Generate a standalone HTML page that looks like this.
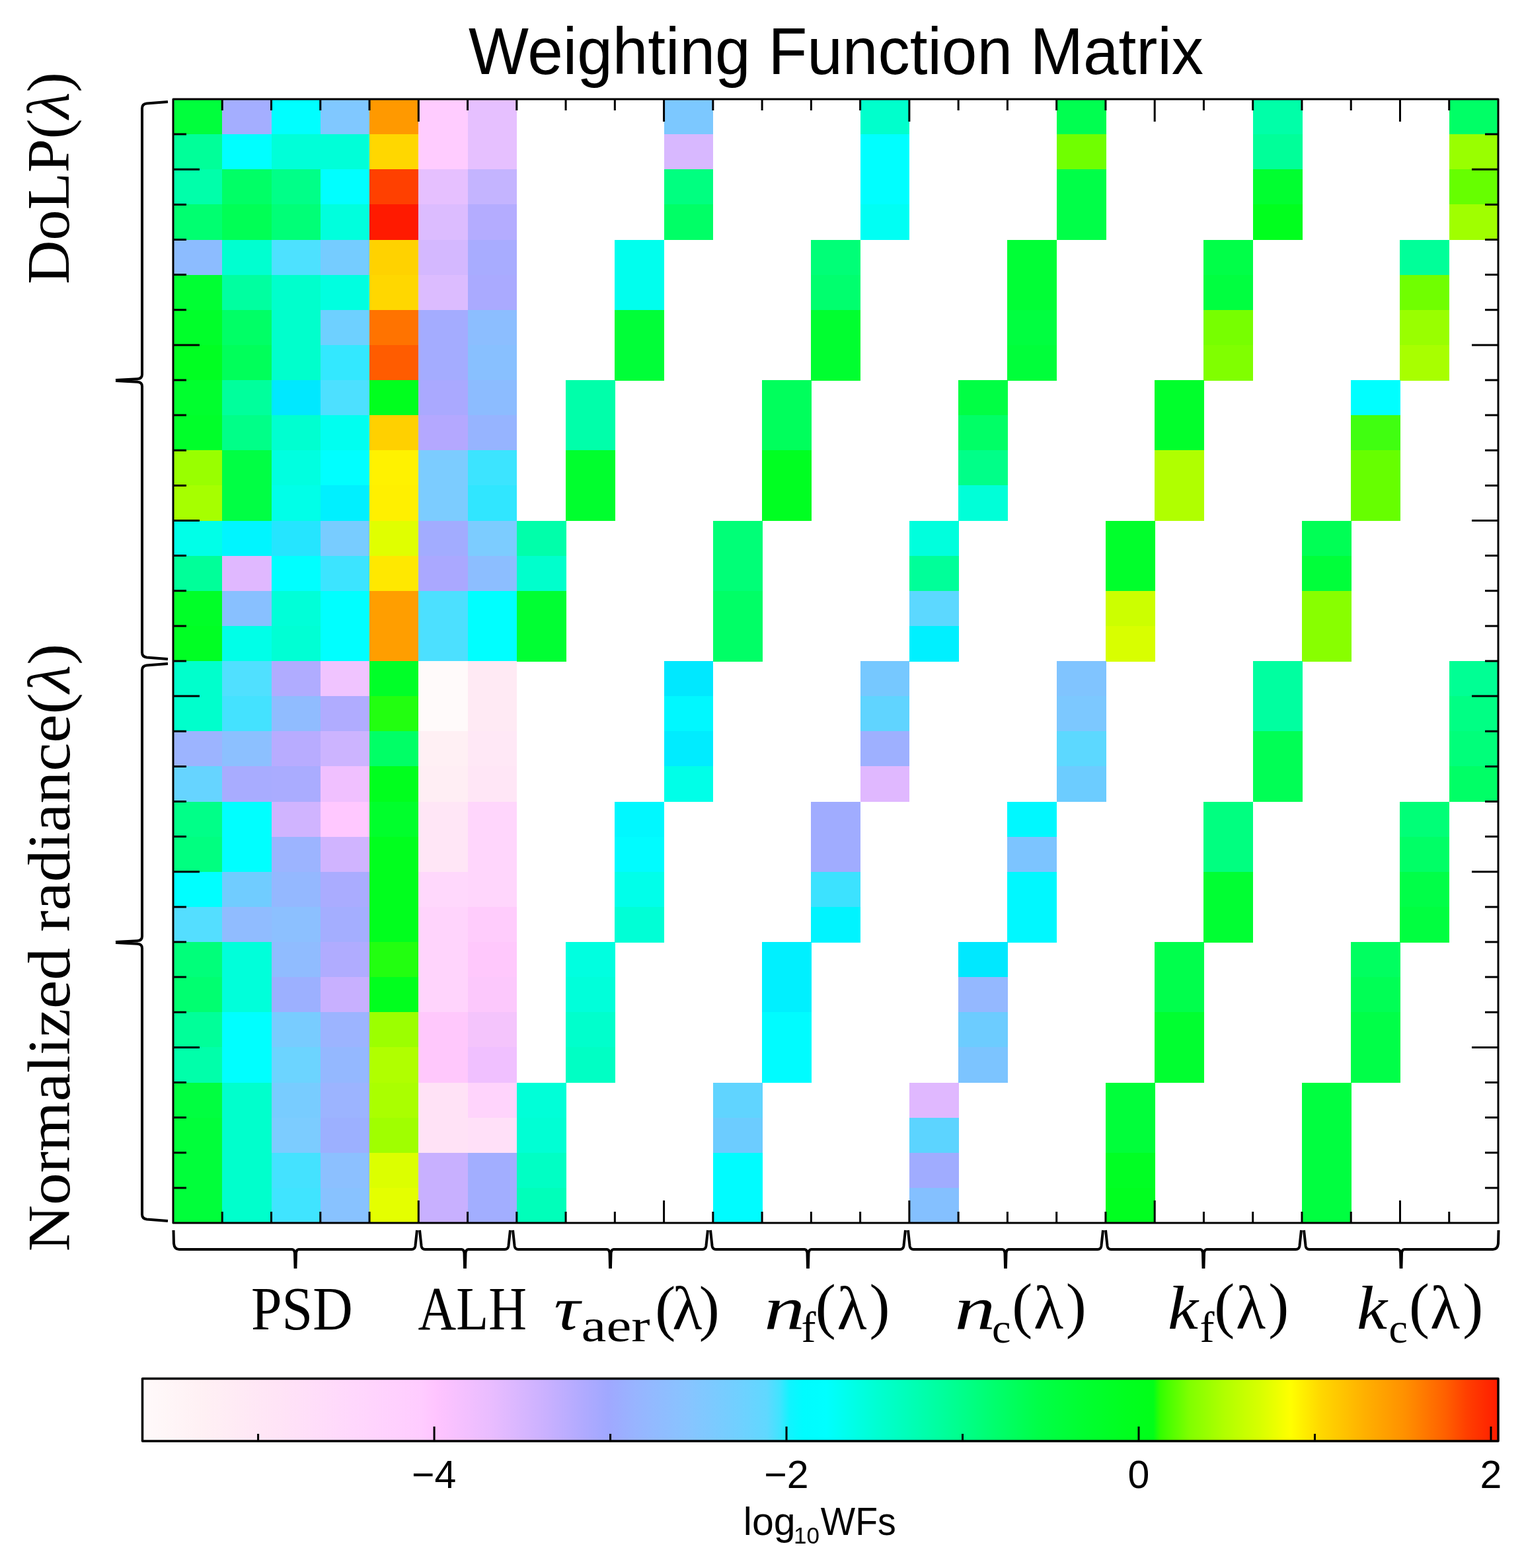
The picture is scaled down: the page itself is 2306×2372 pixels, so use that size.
<!DOCTYPE html>
<html><head><meta charset="utf-8"><title>Weighting Function Matrix</title>
<style>
html,body{margin:0;padding:0;background:#fff;}
body{width:2306px;height:2372px;overflow:hidden;}
svg{display:block;}
.sans{font-family:'Liberation Sans', Arial, Helvetica, sans-serif;}
.serif{font-family:'Liberation Serif', 'DejaVu Serif', serif;}
</style></head><body>
<svg width="2306" height="2372" viewBox="0 0 2306 2372">
<rect width="2306" height="2372" fill="#fff"/>
<defs><linearGradient id="cb" x1="215.5" y1="0" x2="2267" y2="0" gradientUnits="userSpaceOnUse"><stop offset="0.0000" stop-color="#FFFAFA"/><stop offset="0.0456" stop-color="#FFF0F4"/><stop offset="0.0987" stop-color="#FFE4F6"/><stop offset="0.1523" stop-color="#FFD8FC"/><stop offset="0.2055" stop-color="#FFCCFF"/><stop offset="0.2167" stop-color="#FFC4FF"/><stop offset="0.2586" stop-color="#E8BCFF"/><stop offset="0.2995" stop-color="#C8B0FF"/><stop offset="0.3254" stop-color="#B0AAFF"/><stop offset="0.3434" stop-color="#A0A8FF"/><stop offset="0.3634" stop-color="#98B4FF"/><stop offset="0.4019" stop-color="#88C4FF"/><stop offset="0.4404" stop-color="#70D0FF"/><stop offset="0.4604" stop-color="#60D8FF"/><stop offset="0.4701" stop-color="#40E4FF"/><stop offset="0.4775" stop-color="#10F4FF"/><stop offset="0.4872" stop-color="#00FCFF"/><stop offset="0.5043" stop-color="#00FFFF"/><stop offset="0.5433" stop-color="#00FFD0"/><stop offset="0.5871" stop-color="#00FFA0"/><stop offset="0.6261" stop-color="#00FF70"/><stop offset="0.6602" stop-color="#00FF48"/><stop offset="0.6944" stop-color="#00FF30"/><stop offset="0.7236" stop-color="#00FF20"/><stop offset="0.7456" stop-color="#00FF18"/><stop offset="0.7504" stop-color="#30FF00"/><stop offset="0.7563" stop-color="#48FF00"/><stop offset="0.7724" stop-color="#80FF00"/><stop offset="0.7977" stop-color="#B0FF00"/><stop offset="0.8245" stop-color="#D8FF00"/><stop offset="0.8469" stop-color="#FFFF00"/><stop offset="0.8689" stop-color="#FFD800"/><stop offset="0.9015" stop-color="#FFB000"/><stop offset="0.9313" stop-color="#FF9000"/><stop offset="0.9610" stop-color="#FF6000"/><stop offset="0.9761" stop-color="#FF4000"/><stop offset="1.0000" stop-color="#FF1C00"/></linearGradient></defs>
<rect x="262" y="150" width="2005" height="1700" fill="#FFFFFF"/>
<g shape-rendering="crispEdges">
<rect x="262" y="150" width="74.86" height="53.73" fill="#00FF3C"/>
<rect x="336.26" y="150" width="74.86" height="53.73" fill="#A4AEFF"/>
<rect x="410.52" y="150" width="74.86" height="53.73" fill="#00FFFF"/>
<rect x="484.78" y="150" width="74.86" height="53.73" fill="#80C8FF"/>
<rect x="559.04" y="150" width="74.86" height="53.73" fill="#FF9900"/>
<rect x="633.3" y="150" width="74.86" height="53.73" fill="#FFCCFF"/>
<rect x="707.56" y="150" width="74.86" height="53.73" fill="#E6C0FF"/>
<rect x="1004.59" y="150" width="74.86" height="53.73" fill="#7CC8FF"/>
<rect x="1301.63" y="150" width="74.86" height="53.73" fill="#00FFCC"/>
<rect x="1598.67" y="150" width="74.86" height="53.73" fill="#00FF50"/>
<rect x="1895.7" y="150" width="74.86" height="53.73" fill="#00FFA8"/>
<rect x="2192.74" y="150" width="74.86" height="53.73" fill="#00FF66"/>
<rect x="262" y="203.12" width="74.86" height="53.73" fill="#00FF99"/>
<rect x="336.26" y="203.12" width="74.86" height="53.73" fill="#00FFFF"/>
<rect x="410.52" y="203.12" width="74.86" height="53.73" fill="#00FFD8"/>
<rect x="484.78" y="203.12" width="74.86" height="53.73" fill="#00FFD8"/>
<rect x="559.04" y="203.12" width="74.86" height="53.73" fill="#FFD700"/>
<rect x="633.3" y="203.12" width="74.86" height="53.73" fill="#FFCCFF"/>
<rect x="707.56" y="203.12" width="74.86" height="53.73" fill="#E6C0FF"/>
<rect x="1004.59" y="203.12" width="74.86" height="53.73" fill="#D8B8FF"/>
<rect x="1301.63" y="203.12" width="74.86" height="53.73" fill="#00FFFF"/>
<rect x="1598.67" y="203.12" width="74.86" height="53.73" fill="#70FF00"/>
<rect x="1895.7" y="203.12" width="74.86" height="53.73" fill="#00FF99"/>
<rect x="2192.74" y="203.12" width="74.86" height="53.73" fill="#99FF00"/>
<rect x="262" y="256.25" width="74.86" height="53.73" fill="#00FFAA"/>
<rect x="336.26" y="256.25" width="74.86" height="53.73" fill="#00FF66"/>
<rect x="410.52" y="256.25" width="74.86" height="53.73" fill="#00FF88"/>
<rect x="484.78" y="256.25" width="74.86" height="53.73" fill="#00FFFF"/>
<rect x="559.04" y="256.25" width="74.86" height="53.73" fill="#FF4000"/>
<rect x="633.3" y="256.25" width="74.86" height="53.73" fill="#E6C0FF"/>
<rect x="707.56" y="256.25" width="74.86" height="53.73" fill="#C4B4FF"/>
<rect x="1004.59" y="256.25" width="74.86" height="53.73" fill="#00FF80"/>
<rect x="1301.63" y="256.25" width="74.86" height="53.73" fill="#00FFFF"/>
<rect x="1598.67" y="256.25" width="74.86" height="53.73" fill="#00FF48"/>
<rect x="1895.7" y="256.25" width="74.86" height="53.73" fill="#00FF30"/>
<rect x="2192.74" y="256.25" width="74.86" height="53.73" fill="#66FF00"/>
<rect x="262" y="309.38" width="74.86" height="53.73" fill="#00FF70"/>
<rect x="336.26" y="309.38" width="74.86" height="53.73" fill="#00FF55"/>
<rect x="410.52" y="309.38" width="74.86" height="53.73" fill="#00FF77"/>
<rect x="484.78" y="309.38" width="74.86" height="53.73" fill="#00FFDD"/>
<rect x="559.04" y="309.38" width="74.86" height="53.73" fill="#FF1A00"/>
<rect x="633.3" y="309.38" width="74.86" height="53.73" fill="#DCBCFF"/>
<rect x="707.56" y="309.38" width="74.86" height="53.73" fill="#B4ACFF"/>
<rect x="1004.59" y="309.38" width="74.86" height="53.73" fill="#00FF66"/>
<rect x="1301.63" y="309.38" width="74.86" height="53.73" fill="#00FFF4"/>
<rect x="1598.67" y="309.38" width="74.86" height="53.73" fill="#00FF48"/>
<rect x="1895.7" y="309.38" width="74.86" height="53.73" fill="#00FF1E"/>
<rect x="2192.74" y="309.38" width="74.86" height="53.73" fill="#A0FF00"/>
<rect x="262" y="362.5" width="74.86" height="53.73" fill="#8CBCFF"/>
<rect x="336.26" y="362.5" width="74.86" height="53.73" fill="#00FFD0"/>
<rect x="410.52" y="362.5" width="74.86" height="53.73" fill="#4DE1FF"/>
<rect x="484.78" y="362.5" width="74.86" height="53.73" fill="#75CCFF"/>
<rect x="559.04" y="362.5" width="74.86" height="53.73" fill="#FFD200"/>
<rect x="633.3" y="362.5" width="74.86" height="53.73" fill="#D4B8FF"/>
<rect x="707.56" y="362.5" width="74.86" height="53.73" fill="#A8ACFF"/>
<rect x="930.33" y="362.5" width="74.86" height="53.73" fill="#00FFEE"/>
<rect x="1227.37" y="362.5" width="74.86" height="53.73" fill="#00FF77"/>
<rect x="1524.41" y="362.5" width="74.86" height="53.73" fill="#00FF36"/>
<rect x="1821.44" y="362.5" width="74.86" height="53.73" fill="#00FF48"/>
<rect x="2118.48" y="362.5" width="74.86" height="53.73" fill="#00FF99"/>
<rect x="262" y="415.62" width="74.86" height="53.73" fill="#00FF33"/>
<rect x="336.26" y="415.62" width="74.86" height="53.73" fill="#00FFA0"/>
<rect x="410.52" y="415.62" width="74.86" height="53.73" fill="#00FFCC"/>
<rect x="484.78" y="415.62" width="74.86" height="53.73" fill="#00FFE0"/>
<rect x="559.04" y="415.62" width="74.86" height="53.73" fill="#FFD700"/>
<rect x="633.3" y="415.62" width="74.86" height="53.73" fill="#DCBCFF"/>
<rect x="707.56" y="415.62" width="74.86" height="53.73" fill="#AAAAFF"/>
<rect x="930.33" y="415.62" width="74.86" height="53.73" fill="#00FFEE"/>
<rect x="1227.37" y="415.62" width="74.86" height="53.73" fill="#00FF6E"/>
<rect x="1524.41" y="415.62" width="74.86" height="53.73" fill="#00FF36"/>
<rect x="1821.44" y="415.62" width="74.86" height="53.73" fill="#00FF40"/>
<rect x="2118.48" y="415.62" width="74.86" height="53.73" fill="#70FF00"/>
<rect x="262" y="468.75" width="74.86" height="53.73" fill="#00FF2A"/>
<rect x="336.26" y="468.75" width="74.86" height="53.73" fill="#00FF66"/>
<rect x="410.52" y="468.75" width="74.86" height="53.73" fill="#00FFCC"/>
<rect x="484.78" y="468.75" width="74.86" height="53.73" fill="#6ED0FF"/>
<rect x="559.04" y="468.75" width="74.86" height="53.73" fill="#FF7300"/>
<rect x="633.3" y="468.75" width="74.86" height="53.73" fill="#A4ACFF"/>
<rect x="707.56" y="468.75" width="74.86" height="53.73" fill="#8CBEFF"/>
<rect x="930.33" y="468.75" width="74.86" height="53.73" fill="#00FF38"/>
<rect x="1227.37" y="468.75" width="74.86" height="53.73" fill="#00FF30"/>
<rect x="1524.41" y="468.75" width="74.86" height="53.73" fill="#00FF40"/>
<rect x="1821.44" y="468.75" width="74.86" height="53.73" fill="#77FF00"/>
<rect x="2118.48" y="468.75" width="74.86" height="53.73" fill="#99FF00"/>
<rect x="262" y="521.88" width="74.86" height="53.73" fill="#00FF22"/>
<rect x="336.26" y="521.88" width="74.86" height="53.73" fill="#00FF5A"/>
<rect x="410.52" y="521.88" width="74.86" height="53.73" fill="#00FFCC"/>
<rect x="484.78" y="521.88" width="74.86" height="53.73" fill="#33E8FF"/>
<rect x="559.04" y="521.88" width="74.86" height="53.73" fill="#FF5C00"/>
<rect x="633.3" y="521.88" width="74.86" height="53.73" fill="#A4ACFF"/>
<rect x="707.56" y="521.88" width="74.86" height="53.73" fill="#88C0FF"/>
<rect x="930.33" y="521.88" width="74.86" height="53.73" fill="#00FF38"/>
<rect x="1227.37" y="521.88" width="74.86" height="53.73" fill="#00FF30"/>
<rect x="1524.41" y="521.88" width="74.86" height="53.73" fill="#00FF3A"/>
<rect x="1821.44" y="521.88" width="74.86" height="53.73" fill="#80FF00"/>
<rect x="2118.48" y="521.88" width="74.86" height="53.73" fill="#A8FF00"/>
<rect x="262" y="575" width="74.86" height="53.73" fill="#00FF2E"/>
<rect x="336.26" y="575" width="74.86" height="53.73" fill="#00FF9C"/>
<rect x="410.52" y="575" width="74.86" height="53.73" fill="#00E8FF"/>
<rect x="484.78" y="575" width="74.86" height="53.73" fill="#4DE0FF"/>
<rect x="559.04" y="575" width="74.86" height="53.73" fill="#00FF1E"/>
<rect x="633.3" y="575" width="74.86" height="53.73" fill="#AAA9FF"/>
<rect x="707.56" y="575" width="74.86" height="53.73" fill="#8CBCFF"/>
<rect x="856.07" y="575" width="74.86" height="53.73" fill="#00FFAA"/>
<rect x="1153.11" y="575" width="74.86" height="53.73" fill="#00FF5C"/>
<rect x="1450.15" y="575" width="74.86" height="53.73" fill="#00FF44"/>
<rect x="1747.19" y="575" width="74.86" height="53.73" fill="#00FF2C"/>
<rect x="2044.22" y="575" width="74.86" height="53.73" fill="#00FFFF"/>
<rect x="262" y="628.12" width="74.86" height="53.73" fill="#00FF2A"/>
<rect x="336.26" y="628.12" width="74.86" height="53.73" fill="#00FF88"/>
<rect x="410.52" y="628.12" width="74.86" height="53.73" fill="#00FFD0"/>
<rect x="484.78" y="628.12" width="74.86" height="53.73" fill="#00FFF0"/>
<rect x="559.04" y="628.12" width="74.86" height="53.73" fill="#FFD000"/>
<rect x="633.3" y="628.12" width="74.86" height="53.73" fill="#B4A8FF"/>
<rect x="707.56" y="628.12" width="74.86" height="53.73" fill="#96B4FF"/>
<rect x="856.07" y="628.12" width="74.86" height="53.73" fill="#00FFAA"/>
<rect x="1153.11" y="628.12" width="74.86" height="53.73" fill="#00FF5C"/>
<rect x="1450.15" y="628.12" width="74.86" height="53.73" fill="#00FF66"/>
<rect x="1747.19" y="628.12" width="74.86" height="53.73" fill="#00FF2C"/>
<rect x="2044.22" y="628.12" width="74.86" height="53.73" fill="#40FF10"/>
<rect x="262" y="681.25" width="74.86" height="53.73" fill="#99FF00"/>
<rect x="336.26" y="681.25" width="74.86" height="53.73" fill="#00FF44"/>
<rect x="410.52" y="681.25" width="74.86" height="53.73" fill="#00FFE0"/>
<rect x="484.78" y="681.25" width="74.86" height="53.73" fill="#00FFFF"/>
<rect x="559.04" y="681.25" width="74.86" height="53.73" fill="#FFF200"/>
<rect x="633.3" y="681.25" width="74.86" height="53.73" fill="#7CCCFF"/>
<rect x="707.56" y="681.25" width="74.86" height="53.73" fill="#3CE4FF"/>
<rect x="856.07" y="681.25" width="74.86" height="53.73" fill="#00FF2E"/>
<rect x="1153.11" y="681.25" width="74.86" height="53.73" fill="#00FF22"/>
<rect x="1450.15" y="681.25" width="74.86" height="53.73" fill="#00FF88"/>
<rect x="1747.19" y="681.25" width="74.86" height="53.73" fill="#B0FF00"/>
<rect x="2044.22" y="681.25" width="74.86" height="53.73" fill="#66FF00"/>
<rect x="262" y="734.38" width="74.86" height="53.73" fill="#A6FF00"/>
<rect x="336.26" y="734.38" width="74.86" height="53.73" fill="#00FF44"/>
<rect x="410.52" y="734.38" width="74.86" height="53.73" fill="#00FFE8"/>
<rect x="484.78" y="734.38" width="74.86" height="53.73" fill="#00F0FF"/>
<rect x="559.04" y="734.38" width="74.86" height="53.73" fill="#FFF000"/>
<rect x="633.3" y="734.38" width="74.86" height="53.73" fill="#7CCCFF"/>
<rect x="707.56" y="734.38" width="74.86" height="53.73" fill="#30E6FF"/>
<rect x="856.07" y="734.38" width="74.86" height="53.73" fill="#00FF2E"/>
<rect x="1153.11" y="734.38" width="74.86" height="53.73" fill="#00FF22"/>
<rect x="1450.15" y="734.38" width="74.86" height="53.73" fill="#00FFD8"/>
<rect x="1747.19" y="734.38" width="74.86" height="53.73" fill="#B0FF00"/>
<rect x="2044.22" y="734.38" width="74.86" height="53.73" fill="#66FF00"/>
<rect x="262" y="787.5" width="74.86" height="53.73" fill="#00FFE8"/>
<rect x="336.26" y="787.5" width="74.86" height="53.73" fill="#00F5FF"/>
<rect x="410.52" y="787.5" width="74.86" height="53.73" fill="#25E5FF"/>
<rect x="484.78" y="787.5" width="74.86" height="53.73" fill="#78CCFF"/>
<rect x="559.04" y="787.5" width="74.86" height="53.73" fill="#E0FF00"/>
<rect x="633.3" y="787.5" width="74.86" height="53.73" fill="#A2ACFF"/>
<rect x="707.56" y="787.5" width="74.86" height="53.73" fill="#7CCCFF"/>
<rect x="781.81" y="787.5" width="74.86" height="53.73" fill="#00FFAA"/>
<rect x="1078.85" y="787.5" width="74.86" height="53.73" fill="#00FF77"/>
<rect x="1375.89" y="787.5" width="74.86" height="53.73" fill="#00FFDD"/>
<rect x="1672.93" y="787.5" width="74.86" height="53.73" fill="#00FF2C"/>
<rect x="1969.96" y="787.5" width="74.86" height="53.73" fill="#00FF55"/>
<rect x="262" y="840.62" width="74.86" height="53.73" fill="#00FF99"/>
<rect x="336.26" y="840.62" width="74.86" height="53.73" fill="#E0B8FF"/>
<rect x="410.52" y="840.62" width="74.86" height="53.73" fill="#00FFFF"/>
<rect x="484.78" y="840.62" width="74.86" height="53.73" fill="#3CE4FF"/>
<rect x="559.04" y="840.62" width="74.86" height="53.73" fill="#FFE800"/>
<rect x="633.3" y="840.62" width="74.86" height="53.73" fill="#AAA8FF"/>
<rect x="707.56" y="840.62" width="74.86" height="53.73" fill="#8CBEFF"/>
<rect x="781.81" y="840.62" width="74.86" height="53.73" fill="#00FFCC"/>
<rect x="1078.85" y="840.62" width="74.86" height="53.73" fill="#00FF77"/>
<rect x="1375.89" y="840.62" width="74.86" height="53.73" fill="#00FF99"/>
<rect x="1672.93" y="840.62" width="74.86" height="53.73" fill="#00FF2C"/>
<rect x="1969.96" y="840.62" width="74.86" height="53.73" fill="#00FF3A"/>
<rect x="262" y="893.75" width="74.86" height="53.73" fill="#00FF28"/>
<rect x="336.26" y="893.75" width="74.86" height="53.73" fill="#88C0FF"/>
<rect x="410.52" y="893.75" width="74.86" height="53.73" fill="#00FFD8"/>
<rect x="484.78" y="893.75" width="74.86" height="53.73" fill="#00FFFF"/>
<rect x="559.04" y="893.75" width="74.86" height="53.73" fill="#FF9E00"/>
<rect x="633.3" y="893.75" width="74.86" height="53.73" fill="#4CE0FF"/>
<rect x="707.56" y="893.75" width="74.86" height="53.73" fill="#00FFFF"/>
<rect x="781.81" y="893.75" width="74.86" height="53.73" fill="#00FF33"/>
<rect x="1078.85" y="893.75" width="74.86" height="53.73" fill="#00FF66"/>
<rect x="1375.89" y="893.75" width="74.86" height="53.73" fill="#5CD8FF"/>
<rect x="1672.93" y="893.75" width="74.86" height="53.73" fill="#CCFF00"/>
<rect x="1969.96" y="893.75" width="74.86" height="53.73" fill="#88FF00"/>
<rect x="262" y="946.88" width="74.86" height="53.73" fill="#00FF24"/>
<rect x="336.26" y="946.88" width="74.86" height="53.73" fill="#00FFE8"/>
<rect x="410.52" y="946.88" width="74.86" height="53.73" fill="#00FFD4"/>
<rect x="484.78" y="946.88" width="74.86" height="53.73" fill="#00FFFF"/>
<rect x="559.04" y="946.88" width="74.86" height="53.73" fill="#FF9E00"/>
<rect x="633.3" y="946.88" width="74.86" height="53.73" fill="#4CE0FF"/>
<rect x="707.56" y="946.88" width="74.86" height="53.73" fill="#00FFFF"/>
<rect x="781.81" y="946.88" width="74.86" height="53.73" fill="#00FF33"/>
<rect x="1078.85" y="946.88" width="74.86" height="53.73" fill="#00FF66"/>
<rect x="1375.89" y="946.88" width="74.86" height="53.73" fill="#00F0FF"/>
<rect x="1672.93" y="946.88" width="74.86" height="53.73" fill="#D8FF00"/>
<rect x="1969.96" y="946.88" width="74.86" height="53.73" fill="#88FF00"/>
<rect x="262" y="1000" width="74.86" height="53.73" fill="#00FFCC"/>
<rect x="336.26" y="1000" width="74.86" height="53.73" fill="#50E0FF"/>
<rect x="410.52" y="1000" width="74.86" height="53.73" fill="#B0ACFF"/>
<rect x="484.78" y="1000" width="74.86" height="53.73" fill="#F0C4FF"/>
<rect x="559.04" y="1000" width="74.86" height="53.73" fill="#00FF28"/>
<rect x="633.3" y="1000" width="74.86" height="53.73" fill="#FFFAFA"/>
<rect x="707.56" y="1000" width="74.86" height="53.73" fill="#FFEAF4"/>
<rect x="1004.59" y="1000" width="74.86" height="53.73" fill="#00E8FF"/>
<rect x="1301.63" y="1000" width="74.86" height="53.73" fill="#76C8FF"/>
<rect x="1598.67" y="1000" width="74.86" height="53.73" fill="#80C4FF"/>
<rect x="1895.7" y="1000" width="74.86" height="53.73" fill="#00FFA0"/>
<rect x="2192.74" y="1000" width="74.86" height="53.73" fill="#00FF94"/>
<rect x="262" y="1053.12" width="74.86" height="53.73" fill="#00FFCC"/>
<rect x="336.26" y="1053.12" width="74.86" height="53.73" fill="#44E2FF"/>
<rect x="410.52" y="1053.12" width="74.86" height="53.73" fill="#90BCFF"/>
<rect x="484.78" y="1053.12" width="74.86" height="53.73" fill="#B0ACFF"/>
<rect x="559.04" y="1053.12" width="74.86" height="53.73" fill="#22FF10"/>
<rect x="633.3" y="1053.12" width="74.86" height="53.73" fill="#FFFAFA"/>
<rect x="707.56" y="1053.12" width="74.86" height="53.73" fill="#FFEAF4"/>
<rect x="1004.59" y="1053.12" width="74.86" height="53.73" fill="#00F8FF"/>
<rect x="1301.63" y="1053.12" width="74.86" height="53.73" fill="#60D4FF"/>
<rect x="1598.67" y="1053.12" width="74.86" height="53.73" fill="#7CC8FF"/>
<rect x="1895.7" y="1053.12" width="74.86" height="53.73" fill="#00FFA0"/>
<rect x="2192.74" y="1053.12" width="74.86" height="53.73" fill="#00FF84"/>
<rect x="262" y="1106.25" width="74.86" height="53.73" fill="#9CB4FF"/>
<rect x="336.26" y="1106.25" width="74.86" height="53.73" fill="#8CC0FF"/>
<rect x="410.52" y="1106.25" width="74.86" height="53.73" fill="#B8ACFF"/>
<rect x="484.78" y="1106.25" width="74.86" height="53.73" fill="#CCB4FF"/>
<rect x="559.04" y="1106.25" width="74.86" height="53.73" fill="#00FF66"/>
<rect x="633.3" y="1106.25" width="74.86" height="53.73" fill="#FFF0F4"/>
<rect x="707.56" y="1106.25" width="74.86" height="53.73" fill="#FFE8F6"/>
<rect x="1004.59" y="1106.25" width="74.86" height="53.73" fill="#00ECFF"/>
<rect x="1301.63" y="1106.25" width="74.86" height="53.73" fill="#9EB0FF"/>
<rect x="1598.67" y="1106.25" width="74.86" height="53.73" fill="#5CD8FF"/>
<rect x="1895.7" y="1106.25" width="74.86" height="53.73" fill="#00FF55"/>
<rect x="2192.74" y="1106.25" width="74.86" height="53.73" fill="#00FF7A"/>
<rect x="262" y="1159.38" width="74.86" height="53.73" fill="#66D4FF"/>
<rect x="336.26" y="1159.38" width="74.86" height="53.73" fill="#A8ACFF"/>
<rect x="410.52" y="1159.38" width="74.86" height="53.73" fill="#AAACFF"/>
<rect x="484.78" y="1159.38" width="74.86" height="53.73" fill="#F0C0FF"/>
<rect x="559.04" y="1159.38" width="74.86" height="53.73" fill="#00FF1E"/>
<rect x="633.3" y="1159.38" width="74.86" height="53.73" fill="#FFEEF4"/>
<rect x="707.56" y="1159.38" width="74.86" height="53.73" fill="#FFE6F6"/>
<rect x="1004.59" y="1159.38" width="74.86" height="53.73" fill="#00FFE8"/>
<rect x="1301.63" y="1159.38" width="74.86" height="53.73" fill="#E0B8FF"/>
<rect x="1598.67" y="1159.38" width="74.86" height="53.73" fill="#6CCCFF"/>
<rect x="1895.7" y="1159.38" width="74.86" height="53.73" fill="#00FF55"/>
<rect x="2192.74" y="1159.38" width="74.86" height="53.73" fill="#00FF66"/>
<rect x="262" y="1212.5" width="74.86" height="53.73" fill="#00FF88"/>
<rect x="336.26" y="1212.5" width="74.86" height="53.73" fill="#00FFFF"/>
<rect x="410.52" y="1212.5" width="74.86" height="53.73" fill="#D0B4FF"/>
<rect x="484.78" y="1212.5" width="74.86" height="53.73" fill="#FFC8FF"/>
<rect x="559.04" y="1212.5" width="74.86" height="53.73" fill="#00FF2C"/>
<rect x="633.3" y="1212.5" width="74.86" height="53.73" fill="#FFE6F6"/>
<rect x="707.56" y="1212.5" width="74.86" height="53.73" fill="#FFD6FC"/>
<rect x="930.33" y="1212.5" width="74.86" height="53.73" fill="#00F8FF"/>
<rect x="1227.37" y="1212.5" width="74.86" height="53.73" fill="#A0ACFF"/>
<rect x="1524.41" y="1212.5" width="74.86" height="53.73" fill="#00F8FF"/>
<rect x="1821.44" y="1212.5" width="74.86" height="53.73" fill="#00FF80"/>
<rect x="2118.48" y="1212.5" width="74.86" height="53.73" fill="#00FF77"/>
<rect x="262" y="1265.62" width="74.86" height="53.73" fill="#00FF80"/>
<rect x="336.26" y="1265.62" width="74.86" height="53.73" fill="#00FFFF"/>
<rect x="410.52" y="1265.62" width="74.86" height="53.73" fill="#9CB4FF"/>
<rect x="484.78" y="1265.62" width="74.86" height="53.73" fill="#D0B4FF"/>
<rect x="559.04" y="1265.62" width="74.86" height="53.73" fill="#00FF1E"/>
<rect x="633.3" y="1265.62" width="74.86" height="53.73" fill="#FFE6F6"/>
<rect x="707.56" y="1265.62" width="74.86" height="53.73" fill="#FFD6FC"/>
<rect x="930.33" y="1265.62" width="74.86" height="53.73" fill="#00FCFF"/>
<rect x="1227.37" y="1265.62" width="74.86" height="53.73" fill="#A0ACFF"/>
<rect x="1524.41" y="1265.62" width="74.86" height="53.73" fill="#7CC4FF"/>
<rect x="1821.44" y="1265.62" width="74.86" height="53.73" fill="#00FF80"/>
<rect x="2118.48" y="1265.62" width="74.86" height="53.73" fill="#00FF66"/>
<rect x="262" y="1318.75" width="74.86" height="53.73" fill="#00FFFF"/>
<rect x="336.26" y="1318.75" width="74.86" height="53.73" fill="#70CCFF"/>
<rect x="410.52" y="1318.75" width="74.86" height="53.73" fill="#94B8FF"/>
<rect x="484.78" y="1318.75" width="74.86" height="53.73" fill="#AAACFF"/>
<rect x="559.04" y="1318.75" width="74.86" height="53.73" fill="#00FF1E"/>
<rect x="633.3" y="1318.75" width="74.86" height="53.73" fill="#FFD8FC"/>
<rect x="707.56" y="1318.75" width="74.86" height="53.73" fill="#FFD6FC"/>
<rect x="930.33" y="1318.75" width="74.86" height="53.73" fill="#00FFEA"/>
<rect x="1227.37" y="1318.75" width="74.86" height="53.73" fill="#3CE2FF"/>
<rect x="1524.41" y="1318.75" width="74.86" height="53.73" fill="#00F8FF"/>
<rect x="1821.44" y="1318.75" width="74.86" height="53.73" fill="#00FF33"/>
<rect x="2118.48" y="1318.75" width="74.86" height="53.73" fill="#00FF48"/>
<rect x="262" y="1371.88" width="74.86" height="53.73" fill="#54DEFF"/>
<rect x="336.26" y="1371.88" width="74.86" height="53.73" fill="#90BCFF"/>
<rect x="410.52" y="1371.88" width="74.86" height="53.73" fill="#8CC0FF"/>
<rect x="484.78" y="1371.88" width="74.86" height="53.73" fill="#A4AEFF"/>
<rect x="559.04" y="1371.88" width="74.86" height="53.73" fill="#00FF1E"/>
<rect x="633.3" y="1371.88" width="74.86" height="53.73" fill="#FFD4FC"/>
<rect x="707.56" y="1371.88" width="74.86" height="53.73" fill="#FFCCFC"/>
<rect x="930.33" y="1371.88" width="74.86" height="53.73" fill="#00FFD6"/>
<rect x="1227.37" y="1371.88" width="74.86" height="53.73" fill="#00F4FF"/>
<rect x="1524.41" y="1371.88" width="74.86" height="53.73" fill="#00F8FF"/>
<rect x="1821.44" y="1371.88" width="74.86" height="53.73" fill="#00FF33"/>
<rect x="2118.48" y="1371.88" width="74.86" height="53.73" fill="#00FF40"/>
<rect x="262" y="1425" width="74.86" height="53.73" fill="#00FF7A"/>
<rect x="336.26" y="1425" width="74.86" height="53.73" fill="#00FFDA"/>
<rect x="410.52" y="1425" width="74.86" height="53.73" fill="#90BCFF"/>
<rect x="484.78" y="1425" width="74.86" height="53.73" fill="#B0ACFF"/>
<rect x="559.04" y="1425" width="74.86" height="53.73" fill="#22FF10"/>
<rect x="633.3" y="1425" width="74.86" height="53.73" fill="#FFD4FC"/>
<rect x="707.56" y="1425" width="74.86" height="53.73" fill="#FFC8FC"/>
<rect x="856.07" y="1425" width="74.86" height="53.73" fill="#00FFE0"/>
<rect x="1153.11" y="1425" width="74.86" height="53.73" fill="#00F0FF"/>
<rect x="1450.15" y="1425" width="74.86" height="53.73" fill="#00E8FF"/>
<rect x="1747.19" y="1425" width="74.86" height="53.73" fill="#00FF4C"/>
<rect x="2044.22" y="1425" width="74.86" height="53.73" fill="#00FF60"/>
<rect x="262" y="1478.12" width="74.86" height="53.73" fill="#00FF70"/>
<rect x="336.26" y="1478.12" width="74.86" height="53.73" fill="#00FFDA"/>
<rect x="410.52" y="1478.12" width="74.86" height="53.73" fill="#9CB0FF"/>
<rect x="484.78" y="1478.12" width="74.86" height="53.73" fill="#C8B0FF"/>
<rect x="559.04" y="1478.12" width="74.86" height="53.73" fill="#00FF1E"/>
<rect x="633.3" y="1478.12" width="74.86" height="53.73" fill="#FFD4FC"/>
<rect x="707.56" y="1478.12" width="74.86" height="53.73" fill="#FCC8FC"/>
<rect x="856.07" y="1478.12" width="74.86" height="53.73" fill="#00FFDA"/>
<rect x="1153.11" y="1478.12" width="74.86" height="53.73" fill="#00F0FF"/>
<rect x="1450.15" y="1478.12" width="74.86" height="53.73" fill="#94B8FF"/>
<rect x="1747.19" y="1478.12" width="74.86" height="53.73" fill="#00FF4C"/>
<rect x="2044.22" y="1478.12" width="74.86" height="53.73" fill="#00FF55"/>
<rect x="262" y="1531.25" width="74.86" height="53.73" fill="#00FF99"/>
<rect x="336.26" y="1531.25" width="74.86" height="53.73" fill="#00FFFF"/>
<rect x="410.52" y="1531.25" width="74.86" height="53.73" fill="#78CCFF"/>
<rect x="484.78" y="1531.25" width="74.86" height="53.73" fill="#9CB4FF"/>
<rect x="559.04" y="1531.25" width="74.86" height="53.73" fill="#9CFF00"/>
<rect x="633.3" y="1531.25" width="74.86" height="53.73" fill="#FFC8FC"/>
<rect x="707.56" y="1531.25" width="74.86" height="53.73" fill="#F4C4FC"/>
<rect x="856.07" y="1531.25" width="74.86" height="53.73" fill="#00FFCC"/>
<rect x="1153.11" y="1531.25" width="74.86" height="53.73" fill="#00FCFF"/>
<rect x="1450.15" y="1531.25" width="74.86" height="53.73" fill="#6CCCFF"/>
<rect x="1747.19" y="1531.25" width="74.86" height="53.73" fill="#00FF30"/>
<rect x="2044.22" y="1531.25" width="74.86" height="53.73" fill="#00FF48"/>
<rect x="262" y="1584.38" width="74.86" height="53.73" fill="#00FFAA"/>
<rect x="336.26" y="1584.38" width="74.86" height="53.73" fill="#00FFFF"/>
<rect x="410.52" y="1584.38" width="74.86" height="53.73" fill="#6CD4FF"/>
<rect x="484.78" y="1584.38" width="74.86" height="53.73" fill="#94B8FF"/>
<rect x="559.04" y="1584.38" width="74.86" height="53.73" fill="#B0FF00"/>
<rect x="633.3" y="1584.38" width="74.86" height="53.73" fill="#FFC8FC"/>
<rect x="707.56" y="1584.38" width="74.86" height="53.73" fill="#F0C0FF"/>
<rect x="856.07" y="1584.38" width="74.86" height="53.73" fill="#00FFC4"/>
<rect x="1153.11" y="1584.38" width="74.86" height="53.73" fill="#00FCFF"/>
<rect x="1450.15" y="1584.38" width="74.86" height="53.73" fill="#7CC4FF"/>
<rect x="1747.19" y="1584.38" width="74.86" height="53.73" fill="#00FF30"/>
<rect x="2044.22" y="1584.38" width="74.86" height="53.73" fill="#00FF48"/>
<rect x="262" y="1637.5" width="74.86" height="53.73" fill="#00FF40"/>
<rect x="336.26" y="1637.5" width="74.86" height="53.73" fill="#00FFCC"/>
<rect x="410.52" y="1637.5" width="74.86" height="53.73" fill="#78CCFF"/>
<rect x="484.78" y="1637.5" width="74.86" height="53.73" fill="#9CB4FF"/>
<rect x="559.04" y="1637.5" width="74.86" height="53.73" fill="#AAFF00"/>
<rect x="633.3" y="1637.5" width="74.86" height="53.73" fill="#FFE2F6"/>
<rect x="707.56" y="1637.5" width="74.86" height="53.73" fill="#FFD4FC"/>
<rect x="781.81" y="1637.5" width="74.86" height="53.73" fill="#00FFD8"/>
<rect x="1078.85" y="1637.5" width="74.86" height="53.73" fill="#60D4FF"/>
<rect x="1375.89" y="1637.5" width="74.86" height="53.73" fill="#E0B8FF"/>
<rect x="1672.93" y="1637.5" width="74.86" height="53.73" fill="#00FF3A"/>
<rect x="1969.96" y="1637.5" width="74.86" height="53.73" fill="#00FF40"/>
<rect x="262" y="1690.62" width="74.86" height="53.73" fill="#00FF3A"/>
<rect x="336.26" y="1690.62" width="74.86" height="53.73" fill="#00FFCC"/>
<rect x="410.52" y="1690.62" width="74.86" height="53.73" fill="#7CCCFF"/>
<rect x="484.78" y="1690.62" width="74.86" height="53.73" fill="#9CB0FF"/>
<rect x="559.04" y="1690.62" width="74.86" height="53.73" fill="#A0FF00"/>
<rect x="633.3" y="1690.62" width="74.86" height="53.73" fill="#FFE2F6"/>
<rect x="707.56" y="1690.62" width="74.86" height="53.73" fill="#FFE0F8"/>
<rect x="781.81" y="1690.62" width="74.86" height="53.73" fill="#00FFD4"/>
<rect x="1078.85" y="1690.62" width="74.86" height="53.73" fill="#6CCCFF"/>
<rect x="1375.89" y="1690.62" width="74.86" height="53.73" fill="#5CD4FF"/>
<rect x="1672.93" y="1690.62" width="74.86" height="53.73" fill="#00FF3A"/>
<rect x="1969.96" y="1690.62" width="74.86" height="53.73" fill="#00FF40"/>
<rect x="262" y="1743.75" width="74.86" height="53.73" fill="#00FF3A"/>
<rect x="336.26" y="1743.75" width="74.86" height="53.73" fill="#00FFCC"/>
<rect x="410.52" y="1743.75" width="74.86" height="53.73" fill="#44E2FF"/>
<rect x="484.78" y="1743.75" width="74.86" height="53.73" fill="#8CC0FF"/>
<rect x="559.04" y="1743.75" width="74.86" height="53.73" fill="#DCFF00"/>
<rect x="633.3" y="1743.75" width="74.86" height="53.73" fill="#C8B0FF"/>
<rect x="707.56" y="1743.75" width="74.86" height="53.73" fill="#A2AEFF"/>
<rect x="781.81" y="1743.75" width="74.86" height="53.73" fill="#00FFC4"/>
<rect x="1078.85" y="1743.75" width="74.86" height="53.73" fill="#00FCFF"/>
<rect x="1375.89" y="1743.75" width="74.86" height="53.73" fill="#A0ACFF"/>
<rect x="1672.93" y="1743.75" width="74.86" height="53.73" fill="#00FF24"/>
<rect x="1969.96" y="1743.75" width="74.86" height="53.73" fill="#00FF40"/>
<rect x="262" y="1796.88" width="74.86" height="53.73" fill="#00FF3A"/>
<rect x="336.26" y="1796.88" width="74.86" height="53.73" fill="#00FFCC"/>
<rect x="410.52" y="1796.88" width="74.86" height="53.73" fill="#40E4FF"/>
<rect x="484.78" y="1796.88" width="74.86" height="53.73" fill="#88C2FF"/>
<rect x="559.04" y="1796.88" width="74.86" height="53.73" fill="#E4FF00"/>
<rect x="633.3" y="1796.88" width="74.86" height="53.73" fill="#C8B0FF"/>
<rect x="707.56" y="1796.88" width="74.86" height="53.73" fill="#A2AEFF"/>
<rect x="781.81" y="1796.88" width="74.86" height="53.73" fill="#00FFBA"/>
<rect x="1078.85" y="1796.88" width="74.86" height="53.73" fill="#00FCFF"/>
<rect x="1375.89" y="1796.88" width="74.86" height="53.73" fill="#84C0FF"/>
<rect x="1672.93" y="1796.88" width="74.86" height="53.73" fill="#00FF20"/>
<rect x="1969.96" y="1796.88" width="74.86" height="53.73" fill="#00FF40"/>
</g>
<path d="M336.26 150V167M336.26 1850V1833M410.52 150V167M410.52 1850V1833M484.78 150V167M484.78 1850V1833M559.04 150V167M559.04 1850V1833M633.3 150V184M633.3 1850V1816M707.56 150V167M707.56 1850V1833M781.81 150V167M781.81 1850V1833M856.07 150V167M856.07 1850V1833M930.33 150V167M930.33 1850V1833M1004.59 150V184M1004.59 1850V1816M1078.85 150V167M1078.85 1850V1833M1153.11 150V167M1153.11 1850V1833M1227.37 150V167M1227.37 1850V1833M1301.63 150V167M1301.63 1850V1833M1375.89 150V184M1375.89 1850V1816M1450.15 150V167M1450.15 1850V1833M1524.41 150V167M1524.41 1850V1833M1598.67 150V167M1598.67 1850V1833M1672.93 150V167M1672.93 1850V1833M1747.19 150V184M1747.19 1850V1816M1821.44 150V167M1821.44 1850V1833M1895.7 150V167M1895.7 1850V1833M1969.96 150V167M1969.96 1850V1833M2044.22 150V167M2044.22 1850V1833M2118.48 150V184M2118.48 1850V1816M2192.74 150V167M2192.74 1850V1833M262 203.12H282M2267 203.12H2247M262 256.25H302M2267 256.25H2227M262 309.38H282M2267 309.38H2247M262 362.5H282M2267 362.5H2247M262 415.62H282M2267 415.62H2247M262 468.75H282M2267 468.75H2247M262 521.88H302M2267 521.88H2227M262 575H282M2267 575H2247M262 628.12H282M2267 628.12H2247M262 681.25H282M2267 681.25H2247M262 734.38H282M2267 734.38H2247M262 787.5H302M2267 787.5H2227M262 840.62H282M2267 840.62H2247M262 893.75H282M2267 893.75H2247M262 946.88H282M2267 946.88H2247M262 1000H282M2267 1000H2247M262 1053.12H302M2267 1053.12H2227M262 1106.25H282M2267 1106.25H2247M262 1159.38H282M2267 1159.38H2247M262 1212.5H282M2267 1212.5H2247M262 1265.62H282M2267 1265.62H2247M262 1318.75H302M2267 1318.75H2227M262 1371.88H282M2267 1371.88H2247M262 1425H282M2267 1425H2247M262 1478.12H282M2267 1478.12H2247M262 1531.25H282M2267 1531.25H2247M262 1584.38H302M2267 1584.38H2227M262 1637.5H282M2267 1637.5H2247M262 1690.62H282M2267 1690.62H2247M262 1743.75H282M2267 1743.75H2247M262 1796.88H282M2267 1796.88H2247" stroke="#000" stroke-width="3" fill="none"/>
<rect x="262" y="150" width="2005" height="1700" fill="none" stroke="#000" stroke-width="3" stroke-linejoin="round"/>
<path d="M262.5 1861L263 1881Q263.8 1890 271 1890L442 1890Q445.7 1890.4 446 1896L446.6 1919M447.4 1919L448 1896Q448.3 1890.4 452 1890L623 1890Q627.6 1890 628.4 1885L631 1861M635 1861L637.6 1885Q638.4 1890 643 1890L698.5 1890Q702.2 1890.4 702.5 1896L703.1 1919M703.9 1919L704.5 1896Q704.8 1890.4 708.5 1890L764 1890Q768.6 1890 769.4 1885L772 1861M776 1861L778.6 1885Q779.4 1890 784 1890L918.5 1890Q922.2 1890.4 922.5 1896L923.1 1919M923.9 1919L924.5 1896Q924.8 1890.4 928.5 1890L1063 1890Q1067.6 1890 1068.4 1885L1071 1861M1075 1861L1077.6 1885Q1078.4 1890 1083 1890L1217.5 1890Q1221.2 1890.4 1221.5 1896L1222.1 1919M1222.9 1919L1223.5 1896Q1223.8 1890.4 1227.5 1890L1362 1890Q1366.6 1890 1367.4 1885L1370 1861M1374 1861L1376.6 1885Q1377.4 1890 1382 1890L1516.5 1890Q1520.2 1890.4 1520.5 1896L1521.1 1919M1521.9 1919L1522.5 1896Q1522.8 1890.4 1526.5 1890L1661 1890Q1665.6 1890 1666.4 1885L1669 1861M1673 1861L1675.6 1885Q1676.4 1890 1681 1890L1816 1890Q1819.7 1890.4 1820 1896L1820.6 1919M1821.4 1919L1822 1896Q1822.3 1890.4 1826 1890L1961 1890Q1965.6 1890 1966.4 1885L1969 1861M1973 1861L1975.6 1885Q1976.4 1890 1981 1890L2115 1890Q2118.7 1890.4 2119 1896L2119.6 1919M2120.4 1919L2121 1896Q2121.3 1890.4 2125 1890L2259 1890Q2266.2 1890 2267 1881L2267.5 1861M254 154L222 156.6Q215 157.4 215 164L215 566.5Q215 572.7 208 573.2L175 575.1M175 575.9L208 577.8Q215 578.3 215 584.5L215 987Q215 993.6 222 994.4L254 997M254 1004L222 1006.6Q215 1007.4 215 1014L215 1416.5Q215 1422.7 208 1423.2L175 1425.1M175 1425.9L208 1427.8Q215 1428.3 215 1434.5L215 1837Q215 1843.6 222 1844.4L254 1847" stroke="#000" stroke-width="4" fill="none" stroke-linejoin="round"/>
<text class="sans" x="709" y="111.5" font-size="101" textLength="1112" lengthAdjust="spacingAndGlyphs">Weighting Function Matrix</text>
<text class="serif" transform="translate(104 430) rotate(-90)" font-size="91.6" textLength="321" lengthAdjust="spacingAndGlyphs">DoLP(<tspan font-style="italic">λ</tspan>)</text>
<text class="serif" transform="translate(104.5 1893.2) rotate(-90)" font-size="91.6" textLength="919.6" lengthAdjust="spacingAndGlyphs">Normalized radiance(<tspan font-style="italic">λ</tspan>)</text>
<g class="serif" font-size="93">
<text x="380" y="2011" textLength="153.6" lengthAdjust="spacingAndGlyphs">PSD</text>
<text x="632.6" y="2011" textLength="164.3" lengthAdjust="spacingAndGlyphs">ALH</text>
<text x="838.2" y="2011" font-style="italic" textLength="39.3" lengthAdjust="spacingAndGlyphs">τ</text>
<text x="879.6" y="2029" font-size="70" textLength="104" lengthAdjust="spacingAndGlyphs">aer</text>
<text x="991.2" y="2009.5">(</text><text x="1017.3" y="2011">λ</text><text x="1057.8" y="2009.5">)</text>
<text x="1156.3" y="2011" font-style="italic" textLength="61.7" lengthAdjust="spacingAndGlyphs">n</text>
<text x="1212.5" y="2030" font-size="66">f</text>
<text x="1233.7" y="2007">(</text><text x="1266.6" y="2011">λ</text><text x="1315.4" y="2007">)</text>
<text x="1444.5" y="2011" font-style="italic" textLength="61.7" lengthAdjust="spacingAndGlyphs">n</text>
<text x="1500.9" y="2031" font-size="64">c</text>
<text x="1531.3" y="2006">(</text><text x="1564" y="2010">λ</text><text x="1612.7" y="2006">)</text>
<text x="1766.9" y="2010" font-style="italic" textLength="46" lengthAdjust="spacingAndGlyphs">k</text>
<text x="1815.6" y="2030" font-size="66">f</text>
<text x="1837.3" y="2006">(</text><text x="1869.9" y="2010">λ</text><text x="1919.3" y="2006">)</text>
<text x="2052.9" y="2010" font-style="italic" textLength="46" lengthAdjust="spacingAndGlyphs">k</text>
<text x="2101.4" y="2031" font-size="64">c</text>
<text x="2131.9" y="2006">(</text><text x="2164" y="2010">λ</text><text x="2213.3" y="2006">)</text>
</g>
<rect x="215.5" y="2085.5" width="2051.5" height="94.5" fill="url(#cb)"/>
<path d="M390.58 2180V2169M657.07 2180V2158M923.55 2180V2169M1190.03 2180V2158M1456.52 2180V2169M1723 2180V2158M1989.48 2180V2169M2255.97 2180V2158" stroke="#000" stroke-width="3" fill="none"/>
<rect x="215.5" y="2085.5" width="2051.5" height="94.5" fill="none" stroke="#000" stroke-width="3.5" stroke-linejoin="round"/>
<g class="sans" font-size="59">
<text x="656.6" y="2251" text-anchor="middle">−4</text>
<text x="1189.9" y="2251" text-anchor="middle">−2</text>
<text x="1723" y="2251" text-anchor="middle">0</text>
<text x="2256" y="2251" text-anchor="middle">2</text>
<text x="1124.8" y="2321.5">log</text>
<text x="1201" y="2335" font-size="35">10</text>
<text x="1241.8" y="2321.5" textLength="114" lengthAdjust="spacingAndGlyphs">WFs</text>
</g>
</svg>
</body></html>
